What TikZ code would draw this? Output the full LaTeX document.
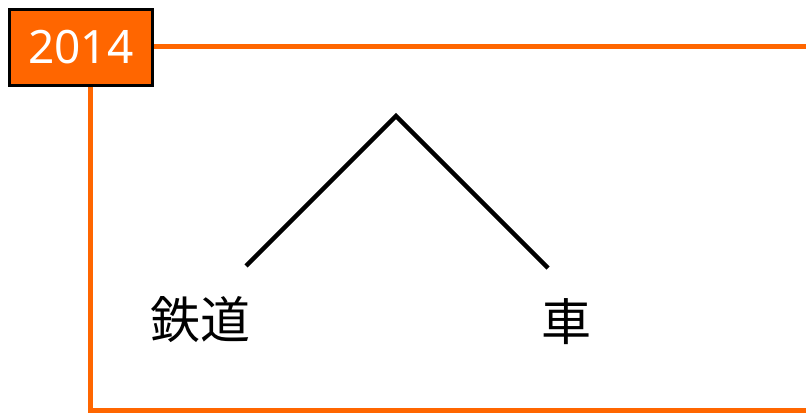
\documentclass[tikz,border=0pt]{standalone}
\usepackage{fontspec}
\setmainfont{Noto Sans}
\newfontfamily\cjk{Noto Sans CJK JP}
\definecolor{orng}{HTML}{FF6600}
\tikzset{
  frameline/.style={draw=orng, line width=5pt},
  yearbox/.style={draw=black, line width=3pt, fill=orng, text=white, minimum width=143pt, minimum height=76pt, inner sep=0pt, font=\fontsize{46}{50}\selectfont},
  branch/.style={draw=black, line width=4.5pt},
  word/.style={font=\cjk\fontsize{50}{56}\selectfont, inner sep=0pt}
}
\begin{document}
\begin{tikzpicture}[x=1pt,y=-1pt]
\useasboundingbox (0,0) rectangle (806,414);
\fill[white] (0,0) rectangle (806,414);
\coordinate (topR) at (806,47);
\coordinate (botL) at (90.5,410);
\coordinate (botR) at (806,410);
\node[yearbox] (year) at (81,47.5) {2014};
\draw[frameline] (year.east |- topR) -- (topR);
\draw[frameline] (botL |- year.south) -- (botL) -- (botR);
\node[word] (left) at (200,320) {鉄道};
\node[word] (right) at (566,322) {車};
\coordinate (apex) at (396,116);
\coordinate (lend) at (246,266);
\coordinate (rend) at (548,268);
\draw[branch] (lend) -- (apex) -- (rend);
\node[yearbox] at (81,47.5) {2014};
\end{tikzpicture}
\end{document}
